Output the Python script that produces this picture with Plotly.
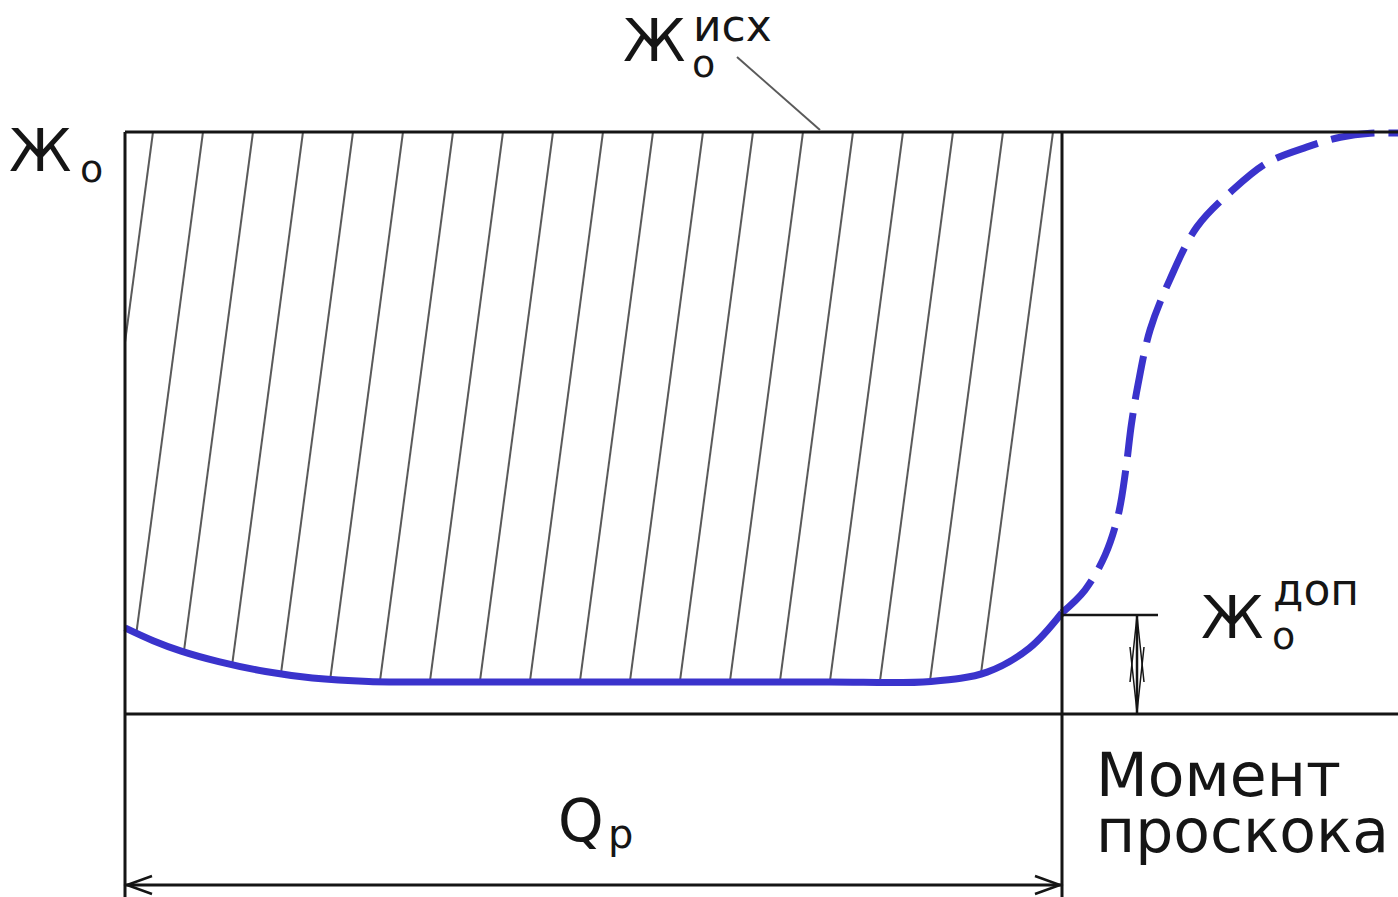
import plotly.graph_objects as go
import numpy as np

# ---- data (x: fraction of working volume Q_p, y: relative hardness Ж/Ж_исх) ----
curve_x = [0.0, 0.03, 0.06, 0.10, 0.15, 0.20, 0.26, 0.34, 0.45, 0.60, 0.75, 0.86, 0.92, 0.965, 1.0]
curve_y = [0.148, 0.126, 0.108, 0.090, 0.073, 0.062, 0.056, 0.055, 0.055, 0.055, 0.055, 0.056, 0.072, 0.113, 0.174]
break_x = [1.0, 1.0245, 1.046, 1.060, 1.068, 1.074, 1.081, 1.094, 1.115, 1.144,
           1.182, 1.219, 1.261, 1.297, 1.329, 1.36]
break_y = [0.174, 0.213, 0.273, 0.342, 0.419, 0.497, 0.565, 0.660, 0.746, 0.837,
           0.900, 0.947, 0.974, 0.991, 0.998, 0.998]
allowed_level = 0.170   # Ж_доп
ymax_level = 1.0        # Ж_исх
qp_end = 1.0            # end of working cycle (moment of breakthrough)

# ---- layout helpers (pixel -> data for decoration placement) ----
W, H = 1398, 897
X0P, X1P, Y0P, Y1P = 125, 1062, 714, 132
SX = (X1P - X0P)
SY = (Y0P - Y1P)


def P(px, py):
    return (px - X0P) / SX, (Y0P - py) / SY


xr = [P(0, 0)[0], P(W, 0)[0]]
yr = [P(0, H)[1], P(0, 0)[1]]

BLUE = "#3a33cc"
BLACK = "#151515"
GRAY = "#5a5a5a"
FONT = "DejaVu Sans"

fig = go.Figure()

# hatch lines
spacing = 50 / SX
slope = 0.133 * SY / SX
hx, hy = [], []
for k in range(19):
    xt = (153 - X0P) / SX + k * spacing
    xb = xt - slope * ymax_level
    if xb >= 0:
        hx += [xt, xb, None]
        hy += [ymax_level, 0, None]
    else:
        hx += [xt, 0, None]
        hy += [ymax_level, ymax_level - xt / slope, None]
fig.add_trace(go.Scatter(x=hx, y=hy, mode="lines",
                         line=dict(color=GRAY, width=2), hoverinfo="skip"))

# white mask below the curve
fig.add_trace(go.Scatter(x=curve_x, y=curve_y, mode="lines", fill="tozeroy",
                         fillcolor="white", line=dict(width=0, shape="spline"),
                         hoverinfo="skip"))

# curves
fig.add_trace(go.Scatter(x=curve_x, y=curve_y, mode="lines",
                         line=dict(color=BLUE, width=7, shape="spline")))
fig.add_trace(go.Scatter(x=break_x, y=break_y, mode="lines",
                         line=dict(color=BLUE, width=7, shape="spline",
                                   dash="44px,14px")))

shapes = []
lw = 3
# frame
shapes.append(dict(type="line", x0=0, y0=ymax_level, x1=xr[1] + 0.1, y1=ymax_level,
                   line=dict(color=BLACK, width=lw)))
shapes.append(dict(type="line", x0=0, y0=0, x1=xr[1] + 0.1, y1=0,
                   line=dict(color=BLACK, width=lw)))
shapes.append(dict(type="line", x0=0, y0=ymax_level, x1=0, y1=yr[0] - 0.1,
                   line=dict(color=BLACK, width=lw)))
shapes.append(dict(type="line", x0=qp_end, y0=ymax_level, x1=qp_end, y1=yr[0] - 0.1,
                   line=dict(color=BLACK, width=lw)))
# allowed-level tick
shapes.append(dict(type="line", x0=qp_end, y0=allowed_level, x1=P(1158, 0)[0],
                   y1=allowed_level, line=dict(color=BLACK, width=2.5)))
# vertical dimension
ax_ = P(1137, 0)[0]
shapes.append(dict(type="line", x0=ax_, y0=allowed_level, x1=ax_, y1=0,
                   line=dict(color=BLACK, width=2.5)))


def path(pts):
    s = ""
    for i, (px, py) in enumerate(pts):
        x, y = P(px, py)
        s += ("M" if i == 0 else " L") + f"{x:.5f},{y:.5f}"
    return s


# vertical arrowheads (long, thin)
shapes.append(dict(type="path", path=path([(1130, 682), (1137, 616), (1144, 682)]),
                   line=dict(color=BLACK, width=1.5)))
shapes.append(dict(type="path", path=path([(1130, 647), (1137, 712), (1144, 647)]),
                   line=dict(color=BLACK, width=1.5)))
# bottom dimension arrow
yb = P(0, 885)[1]
shapes.append(dict(type="line", x0=0, y0=yb, x1=qp_end, y1=yb,
                   line=dict(color=BLACK, width=3)))
shapes.append(dict(type="path", path=path([(152, 876), (127, 885), (152, 894)]),
                   line=dict(color=BLACK, width=2.5)))
shapes.append(dict(type="path", path=path([(1035, 876), (1060, 885), (1035, 894)]),
                   line=dict(color=BLACK, width=2.5)))
# leader line to Ж_исх
lx0, ly0 = P(737, 57)
lx1, ly1 = P(820, 130)
shapes.append(dict(type="line", x0=lx0, y0=ly0, x1=lx1, y1=ly1,
                   line=dict(color=GRAY, width=2)))

anns = []


def txt(t, px, py, size, anchor="center"):
    x, y = P(px, py)
    anns.append(dict(text=t, x=x, y=y, xref="x", yref="y", showarrow=False,
                     xanchor=anchor, yanchor="middle",
                     font=dict(family=FONT, size=size, color=BLACK)))


# left label Ж_о
txt("Ж", 40, 151, 58)
txt("о", 91, 169, 38)
# top label Ж_о^исх
txt("Ж", 654, 41, 58)
txt("исх", 732, 25, 44)
txt("о", 703, 64, 38)
# right label Ж_о^доп
txt("Ж", 1232, 618, 58)
txt("доп", 1316, 589, 44)
txt("о", 1283, 636, 38)
# Q_p
txt("Q", 581, 821, 58)
txt("р", 620, 834, 40)
# Момент проскока
txt("Момент", 1094, 775, 60, "left")
txt("проскока", 1094, 831, 60, "left")

fig.update_layout(
    width=W, height=H, margin=dict(l=0, r=0, t=0, b=0),
    paper_bgcolor="white", plot_bgcolor="white", showlegend=False,
    xaxis=dict(range=xr, visible=False, fixedrange=True),
    yaxis=dict(range=yr, visible=False, fixedrange=True),
    shapes=shapes, annotations=anns,
)

fig.write_html("out.html", config={"displayModeBar": False},
               post_script="document.body.style.margin='0';document.body.style.padding='0';document.body.style.overflow='hidden';")
